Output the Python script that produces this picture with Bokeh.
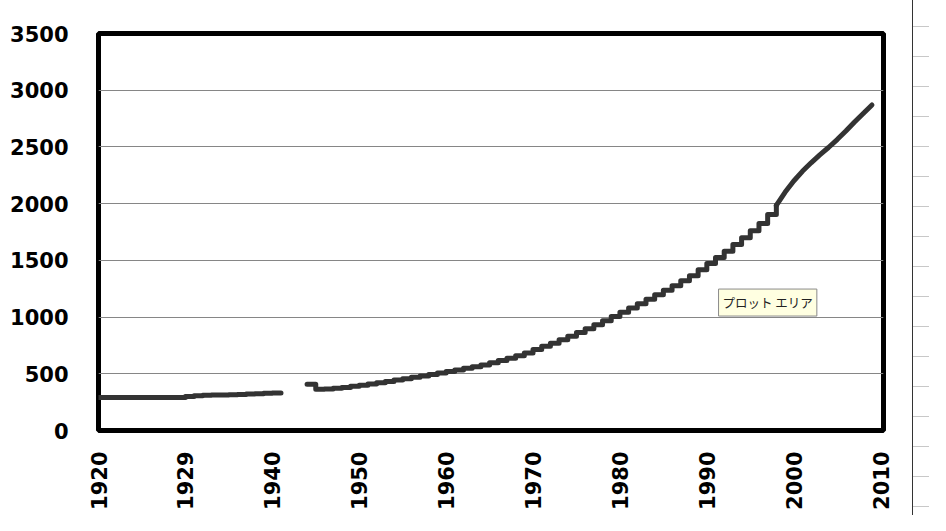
import math
from bokeh.plotting import figure
from bokeh.models import FixedTicker, Range1d, Label, Div
from bokeh.layouts import row
from bokeh.embed import file_html
from bokeh.resources import INLINE

# ---- data ----
years_prewar = list(range(1920, 1942))
values_prewar = [290, 290, 290, 290, 290, 290, 290, 290, 290,
                 292, 300, 306, 310, 312, 314, 316, 318, 322, 325, 328, 330, 330]

years_postwar = list(range(1944, 2010))
values_postwar = [407, 363, 366, 372, 380, 390,
                  400, 410, 421, 433, 445, 457, 469, 481, 494, 507,
                  520, 534, 548, 563, 578, 597, 617, 638, 660, 684,
                  715, 742, 770, 800, 832, 865, 898, 932, 968, 1005,
                  1042, 1080, 1118, 1157, 1196, 1236, 1276, 1320, 1365, 1418,
                  1472, 1525, 1580, 1640, 1700, 1762, 1826, 1905, 1985, 2100,
                  2200, 2285, 2360, 2430, 2495, 2565, 2640, 2720, 2795, 2870]

y_ticks = [0, 500, 1000, 1500, 2000, 2500, 3000, 3500]
x_ticks = [1920, 1930, 1940, 1950, 1960, 1970, 1980, 1990, 2000, 2010]
x_tick_labels = ["1920", "1929", "1940", "1950", "1960", "1970",
                 "1980", "1990", "2000", "2010"]

tooltip_text = "プロット エリア"

W, H = 905, 515
ML, MR, MT, MB = 98, 22, 33, 85
X0, X1 = 1920, 2010.33
Y0, Y1 = 0, 3500

p = figure(width=W, height=H,
           x_range=Range1d(X0, X1), y_range=Range1d(Y0, Y1),
           output_backend="svg", toolbar_location=None,
           min_border_left=ML, min_border_right=MR,
           min_border_top=MT, min_border_bottom=MB)
p.background_fill_color = "white"
p.border_fill_color = "white"
p.outline_line_color = "black"
p.outline_line_width = 5

line_style = dict(line_width=5, line_color="#333333",
                  line_cap="round", line_join="round")
p.step(years_prewar, values_prewar, mode="after", **line_style)
split = years_postwar.index(1998)
p.step(years_postwar[:split + 1], values_postwar[:split + 1], mode="after", **line_style)
p.line(years_postwar[split:], values_postwar[split:], **line_style)

# grid
p.xgrid.visible = False
p.ygrid.ticker = FixedTicker(ticks=y_ticks)
p.ygrid.grid_line_color = "#868686"
p.ygrid.grid_line_width = 1

# axes
for ax in (p.xaxis[0], p.yaxis[0]):
    ax.axis_line_color = None
    ax.major_tick_line_color = None
    ax.minor_tick_line_color = None
    ax.major_tick_out = 0
    ax.major_tick_in = 0
    ax.minor_tick_out = 0
    ax.minor_tick_in = 0
    ax.major_label_text_font = "DejaVu Sans"
    ax.major_label_text_font_style = "bold"
    ax.major_label_text_font_size = "21px"
    ax.major_label_text_color = "black"

p.yaxis.ticker = FixedTicker(ticks=y_ticks)
p.yaxis.major_label_standoff = 30
p.xaxis.ticker = FixedTicker(ticks=x_ticks)
p.xaxis.major_label_overrides = {k: v for k, v in zip(x_ticks, x_tick_labels)}
p.xaxis.major_label_orientation = math.pi / 2
p.xaxis.major_label_standoff = 21

# Excel-like tooltip
p.add_layout(Label(x=1991.35, y=1128, text=tooltip_text,
                   text_font="Noto Sans CJK JP", text_font_size="12.5px",
                   text_color="#222222", text_align="left",
                   text_baseline="middle",
                   background_fill_color="#ffffe1",
                   border_line_color="#8a8a8a", border_line_width=1,
                   padding=4))

# spreadsheet cells visible at the right edge of the screen
cells = Div(
    text=('<div style="margin:0;padding:0;width:17px;height:515px;'
          'border-left:1px solid #333333;'
          'background-image:repeating-linear-gradient(to bottom,'
          'transparent 0px,transparent 26px,#c8c8c8 26px,#c8c8c8 27px,'
          'transparent 27px,transparent 30px);"></div>'),
    width=25, height=H, margin=(0, 0, 0, 0),
    styles={"padding-left": "7px"})

layout = row(p, cells, spacing=0)
open("out.html", "w").write(file_html(layout, INLINE))
